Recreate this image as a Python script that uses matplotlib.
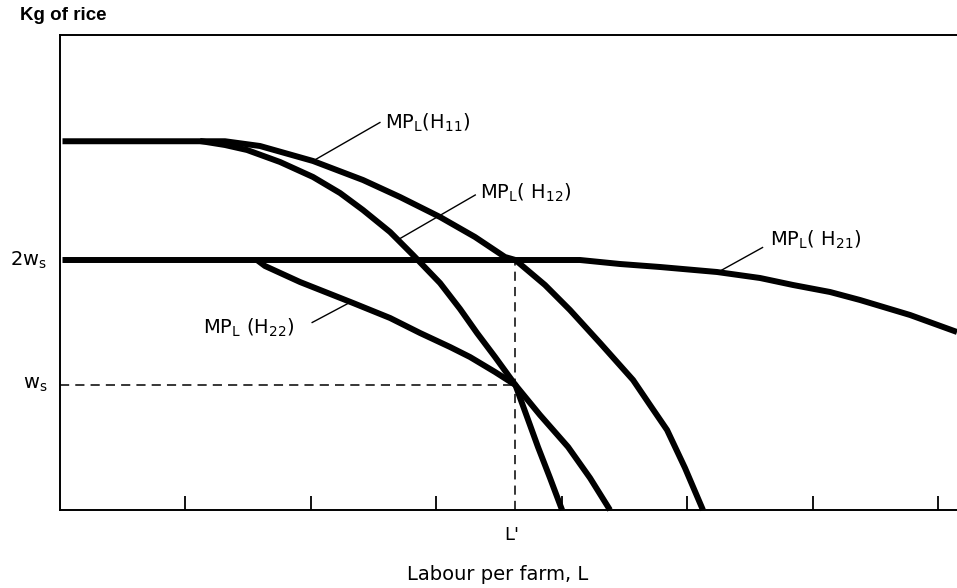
import matplotlib
matplotlib.use('Agg')
import matplotlib.pyplot as plt

# values (x in tick units, y in units of w_s)
h11_x = [0.02, 1.315, 1.594, 2.017, 2.415, 2.71, 3.029, 3.308, 3.547, 3.63, 3.866, 4.065, 4.305, 4.568, 4.703, 4.839, 4.982, 5.125]
h11_y = [2.95, 2.95, 2.912, 2.792, 2.64, 2.504, 2.344, 2.184, 2.024, 2.0, 1.80, 1.60, 1.336, 1.04, 0.84, 0.64, 0.336, 0.0]

h12_x = [1.116, 1.315, 1.491, 1.754, 2.017, 2.232, 2.415, 2.631, 2.814, 3.029, 3.189, 3.324, 3.468, 3.63, 3.723, 3.81, 3.906, 4.002]
h12_y = [2.952, 2.92, 2.88, 2.784, 2.664, 2.536, 2.40, 2.224, 2.04, 1.816, 1.608, 1.416, 1.224, 1.0, 0.744, 0.504, 0.256, 0.0]

h21_x = [0.02, 4.145, 4.464, 4.783, 5.237, 5.58, 5.843, 6.138, 6.377, 6.776, 7.15]
h21_y = [2.0, 2.0, 1.968, 1.944, 1.904, 1.856, 1.80, 1.744, 1.68, 1.56, 1.424]

h22_x = [1.57, 1.634, 1.913, 2.336, 2.631, 2.87, 3.109, 3.268, 3.468, 3.63, 3.826, 4.05, 4.225, 4.384]
h22_y = [2.0, 1.952, 1.824, 1.656, 1.536, 1.416, 1.304, 1.224, 1.104, 1.0, 0.76, 0.504, 0.256, 0.0]

L_prime = 3.63
ws = 1.0
x_ticks = [1, 2, 3, 4, 5, 6, 7]

labels = [r'MP$_\mathrm{L}$(H$_\mathrm{11}$)', r'MP$_\mathrm{L}$( H$_\mathrm{12}$)',
          r'MP$_\mathrm{L}$( H$_\mathrm{21}$)', r'MP$_\mathrm{L}$ (H$_\mathrm{22}$)']
label_pos = [(2.59, 3.10), (3.35, 2.54), (5.66, 2.16), (1.14, 1.46)]
leader_from = [(2.03, 2.80), (2.69, 2.16), (5.24, 1.90), (2.01, 1.50)]
leader_to = [(2.55, 3.10), (3.31, 2.52), (5.60, 2.10), (2.31, 1.66)]

fig = plt.figure(figsize=(9.57, 5.88), dpi=100)
ax = fig.add_axes([60/957, 78/588, 897/957, 475/588])

lw = 4.3
for xs, ys in [(h11_x, h11_y), (h12_x, h12_y), (h21_x, h21_y), (h22_x, h22_y)]:
    ax.plot(xs, ys, color='black', lw=lw, solid_joinstyle='round', solid_capstyle='butt', clip_on=False)

# dashed guides
ax.plot([0, L_prime], [ws, ws], color='black', lw=1.1, ls=(0, (6, 4)))
ax.plot([L_prime, L_prime], [0, 2 * ws], color='black', lw=1.1, ls=(0, (6, 4)))

for txt, (tx, ty), (fx, fy), (ex, ey) in zip(labels, label_pos, leader_from, leader_to):
    ax.plot([fx, ex], [fy, ey], color='black', lw=1.0)
    ax.text(tx, ty, txt, fontsize=14, va='center', ha='left')

ax.set_xlim(0, 7.15)
ax.set_ylim(0, 3.8)
ax.set_xticks(x_ticks)
ax.set_xticklabels([])
ax.set_yticks([])
ax.tick_params(axis='x', direction='in', length=10, width=1.3)
ax.spines['right'].set_visible(False)
for s in ['left', 'bottom', 'top']:
    ax.spines[s].set_linewidth(1.4)

ax.text(-0.1, 2 * ws, r'2w$_\mathrm{s}$', fontsize=14, ha='right', va='center')
ax.text(-0.1, ws, r'w$_\mathrm{s}$', fontsize=14, ha='right', va='center')
ax.text(L_prime - 0.03, -0.2, "L'", fontsize=13, ha='center', va='center')
ax.text(3.49, -0.52, 'Labour per farm, L', fontsize=14, ha='center', va='center')
fig.text(20/957, 1 - 16/588, 'Kg of rice', fontsize=13.5, fontweight='bold',
         family='Liberation Sans', ha='left', va='center')

fig.savefig('out.png', dpi=100)
